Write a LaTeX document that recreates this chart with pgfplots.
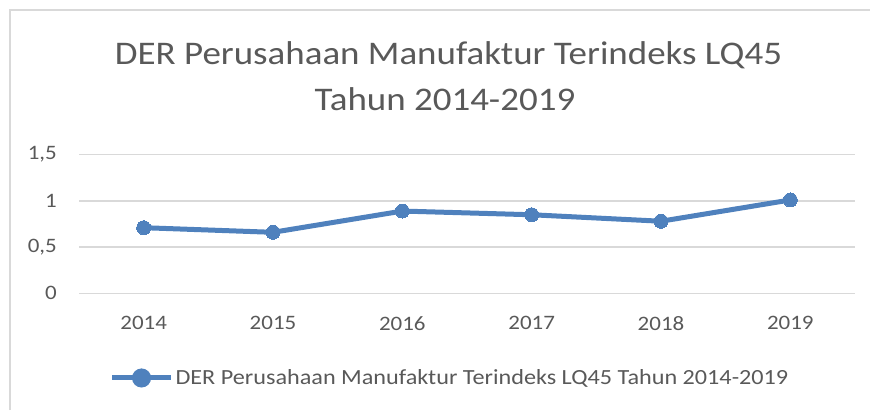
\documentclass[border=0pt]{standalone}
\usepackage{pgfplots}
\pgfplotsset{compat=1.18}
\usepackage{fontspec}
\setmainfont{Carlito}[FakeStretch=1.12]
\definecolor{ser}{HTML}{4F81BD}
\definecolor{txt}{HTML}{595959}
\definecolor{grd}{HTML}{D9D9D9}
\begin{document}
\begin{tikzpicture}[x=1pt,y=1pt]
\path[use as bounding box] (0,0) rectangle (870,410);
\draw[grd, line width=1.5pt] (10,0) -- (10,400) -- (870,400);
\node[anchor=base, text=txt, font=\fontsize{33}{40}\selectfont, inner sep=0pt] at (448.5,345) {DER Perusahaan Manufaktur Terindeks LQ45};
\node[anchor=base, text=txt, font=\fontsize{33}{40}\selectfont, inner sep=0pt] at (445,299) {Tahun 2014-2019};
\begin{axis}[
  at={(79pt,116.7pt)}, anchor=south west,
  scale only axis, width=776pt, height=138.6pt,
  xmin=-0.5, xmax=5.5, ymin=0, ymax=1.5,
  xtick={0,1,2,3,4,5},
  xticklabels={2014,2015,2016,2017,2018,2019},
  ytick={0,0.5,1,1.5},
  yticklabels={0,{0,5},1,{1,5}},
  axis line style={draw=none},
  major tick length=0pt,
  ymajorgrids, grid style={grd, line width=1.5pt},
  tick label style={text=txt, font=\fontsize{20.5}{24}\selectfont, inner sep=0pt},
  xticklabel style={anchor=north, yshift=-23pt},
  yticklabel style={anchor=east, xshift=-22pt},
  clip=false,
  legend style={at={(0.478,-0.611)}, anchor=center, draw=none, fill=none,
    font=\fontsize{21.6}{26}\selectfont, text=txt, inner sep=0pt,
    /tikz/every even column/.append style={column sep=0pt}},
  legend cell align=left,
  legend image code/.code={
    \draw[ser, line width=5pt] (0pt,0pt) -- (59pt,0pt);
    \fill[ser] (29.5pt,0pt) circle (7pt);
  },
]
\addplot[ser, line width=5pt, mark=*, mark size=7pt, mark options={fill=ser, draw=ser, line width=0pt}]
  coordinates {(0,0.71) (1,0.66) (2,0.89) (3,0.85) (4,0.78) (5,1.01)};
\addlegendentry{DER Perusahaan Manufaktur Terindeks LQ45 Tahun 2014-2019}
\end{axis}
\end{tikzpicture}
\end{document}
